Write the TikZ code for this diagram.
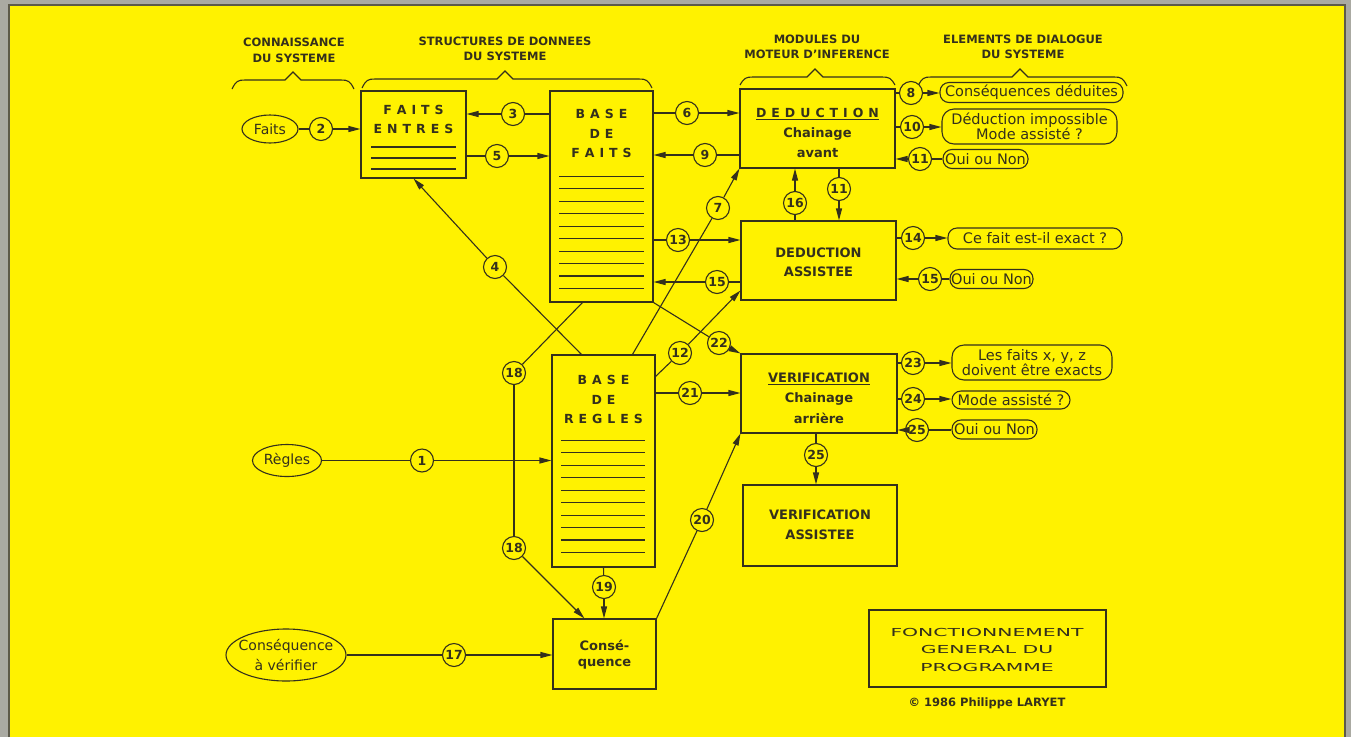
\documentclass[tikz,border=0pt]{standalone}
\usepackage{fontspec}
\setmainfont{DejaVu Sans}
\usepackage{graphicx}
\usetikzlibrary{arrows.meta,shapes.geometric,calc}
\definecolor{bgyel}{RGB}{255,242,0}
\definecolor{ink}{RGB}{52,48,28}
\definecolor{framegray}{RGB}{170,170,162}
\newcommand{\fsz}[2]{\fontsize{#1}{#2}\selectfont}
\tikzset{
  ln/.style={draw=ink, line width=1.1pt},
  arr/.style={ln, -{Triangle[length=12pt,width=6pt]}},
  num/.style={circle, draw=ink, line width=1.1pt, fill=bgyel, minimum size=23pt, inner sep=0pt, text=ink, font=\fsz{12.5}{12.5}\bfseries},
  box/.style={draw=ink, line width=1.1pt, inner sep=0pt},
  oval/.style={ellipse, draw=ink, line width=1.1pt, inner sep=0pt, align=center, text=ink, font=\fsz{14}{20}},
  dlg/.style={draw=ink, line width=1.1pt, rounded corners=9pt, inner sep=0pt, align=center, text=ink, font=\fsz{14.5}{15}},
  hdr/.style={align=center, text=ink, font=\fsz{11.5}{15.5}\bfseries},
  btx/.style={text=ink, inner sep=0pt, font=\fsz{13}{20}\bfseries},
  stx/.style={text=ink, inner sep=0pt, font=\fsz{12.5}{20}\bfseries\spaceskip5pt\relax},
}
\begin{document}
\begin{tikzpicture}[x=1pt,y=-1pt]
\useasboundingbox (0,0) rectangle (1351,737);
% background and frame
\fill[framegray] (0,0) rectangle (1351,737);
\fill[bgyel] (9,5) rectangle (1345,737);
\draw[line width=1.5pt, ink!80] (9,737) -- (9,5) -- (1345,5) -- (1345,737);

% headers
\node[hdr] (h1) at (294,50.5) {CONNAISSANCE\\DU SYSTEME};
\node[hdr] (h2) at (505,49) {STRUCTURES DE DONNEES\\DU SYSTEME};
\node[hdr] (h3) at (817,47) {MODULES DU\\MOTEUR D'INFERENCE};
\node[hdr] (h4) at (1023,47) {ELEMENTS DE DIALOGUE\\DU SYSTEME};

% braces
\draw[ln] (232,89) .. controls (236,81) and (238,80) .. (245,80) -- (285,80) -- (293,72) -- (301,80) -- (341,80) .. controls (348,80) and (350,81) .. (354,89);
\draw[ln] (362,88) .. controls (366,80) and (368,79) .. (375,79) -- (497,79) -- (505,71) -- (513,79) -- (639,79) .. controls (646,79) and (648,80) .. (652,88);
\draw[ln] (740,85) .. controls (744,78) and (746,77) .. (753,77) -- (807,77) -- (815,69) -- (823,77) -- (882,77) .. controls (889,77) and (891,78) .. (895,85);
\draw[ln] (918,86) .. controls (922,78) and (924,77) .. (931,77) -- (1012,77) -- (1020,69) -- (1028,77) -- (1114,77) .. controls (1121,77) and (1123,78) .. (1127,86);

% main boxes
\node[box, minimum width=105pt, minimum height=87pt] (fe) at (413.5,134.5) {};
\node[box, minimum width=103pt, minimum height=211pt] (bf) at (601.5,196.5) {};
\node[box, minimum width=103pt, minimum height=212pt] (br) at (603.5,461) {};
\node[box, minimum width=103pt, minimum height=70pt] (cq) at (604.5,654) {};
\node[box, minimum width=155pt, minimum height=79pt] (ded) at (817.5,128.5) {};
\node[box, minimum width=155pt, minimum height=79pt] (da) at (818.5,260.5) {};
\node[box, minimum width=156pt, minimum height=79pt] (verif) at (819,393.5) {};
\node[box, minimum width=154pt, minimum height=81pt] (va) at (820,525.5) {};
\node[box, minimum width=237pt, minimum height=77pt] (fn) at (987.5,648.5) {};

% ruled lines inside boxes
\foreach \k in {56.5,67.5,78.5} \draw[ln] ($(fe.north west)+(11,\k)$) -- ++(85,0);
\foreach \i in {0,...,9} {
  \draw[ln] ($(bf.north west)+(10,86+\i*12.44)$) -- ++(85,0);
  \draw[ln] ($(br.north west)+(10,86+\i*12.44)$) -- ++(84,0);
}

% box texts
\node[stx] (tfe1) at (413.5,110) {F A I T S};
\node[stx] (tfe2) at (413.5,129) {E N T R E S};
\node[stx] (tbf1) at (601.5,114) {B A S E};
\node[stx] (tbf2) at (601.5,134) {D E};
\node[stx] (tbf3) at (601.5,153) {F A I T S};
\node[stx] (tbr1) at (603.5,380) {B A S E};
\node[stx] (tbr2) at (603.5,400) {D E};
\node[stx] (tbr3) at (603.5,419) {R E G L E S};
\node[stx] (tded1) at (817.5,114) {\underline{D E D U C T I O N}};
\node[btx] (tded2) at (817.5,134) {Chainage};
\node[btx] (tded3) at (817.5,153) {avant};
\node[btx] (tda1) at (818.5,253) {DEDUCTION};
\node[btx] (tda2) at (818.5,272) {ASSISTEE};
\node[btx] (tve1) at (819,379) {\underline{VERIFICATION}};
\node[btx] (tve2) at (819,399) {Chainage};
\node[btx] (tve3) at (819,418) {arrière};
\node[btx] (tva1) at (820,515) {VERIFICATION};
\node[btx] (tva2) at (820,535) {ASSISTEE};
\node[btx] (tcq1) at (604.5,645) {Consé-};
\node[btx] (tcq2) at (604.5,664) {quence};
\node[text=ink, align=center, font=\fsz{11}{17.5}] (tfn) at (987,649.5)
  {\scalebox{1.85}[1]{FONCTIONNEMENT}\\\scalebox{1.85}[1]{GENERAL DU}\\\scalebox{1.85}[1]{PROGRAMME}};
\node[text=ink, font=\fsz{11.5}{14}\bfseries] (copy) at (987,703) {© 1986 Philippe LARYET};

% input ellipses
\node[oval, minimum width=56pt, minimum height=28pt] (faits) at (270,129) {Faits};
\node[oval, minimum width=69pt, minimum height=32pt] (regles) at (287,460.5) {Règles};
\node[oval, inner xsep=-7pt, minimum width=120pt, minimum height=52pt] (csqv) at (286,655) {Conséquence\\à vérifier};

% dialog boxes
\node[dlg, minimum width=183pt, minimum height=20pt] (d8) at (1031.5,92.5) {Conséquences déduites};
\node[dlg, minimum width=175pt, minimum height=35pt, rounded corners=12pt] (d10) at (1029.5,126.5) {Déduction impossible\\Mode assisté ?};
\node[dlg, minimum width=85pt, minimum height=19pt] (d11) at (985.5,159) {Oui ou Non};
\node[dlg, minimum width=174pt, minimum height=21pt] (d14) at (1035,238.5) {Ce fait est-il exact ?};
\node[dlg, minimum width=83pt, minimum height=19pt] (d15) at (991.5,279) {Oui ou Non};
\node[dlg, minimum width=160pt, minimum height=35pt, rounded corners=12pt] (d23) at (1032,362.5) {Les faits x, y, z\\doivent être exacts};
\node[dlg, minimum width=118pt, minimum height=18pt] (d24) at (1011,400) {Mode assisté ?};
\node[dlg, minimum width=85pt, minimum height=19pt] (d25) at (994.5,429.5) {Oui ou Non};

% numbered circles
\node[num] (c1) at (422,460.5) {1};
\node[num] (c2) at (321,129) {2};
\node[num] (c3) at (513,114) {3};
\node[num] (c4) at (495,267) {4};
\node[num] (c5) at (497,156) {5};
\node[num] (c6) at (687,113) {6};
\node[num] (c7) at (718,208) {7};
\node[num] (c8) at (911,93) {8};
\node[num] (c9) at (705,155) {9};
\node[num] (c10) at (912,127) {10};
\node[num] (c11) at (920,159) {11};
\node[num] (c11b) at (839,189) {11};
\node[num] (c12) at (680,353) {12};
\node[num] (c13) at (678,240) {13};
\node[num] (c14) at (913,238) {14};
\node[num] (c15) at (717,282) {15};
\node[num] (c15r) at (930,279) {15};
\node[num] (c16) at (795,203) {16};
\node[num] (c17) at (454,655) {17};
\node[num] (c18a) at (514,373) {18};
\node[num] (c18b) at (514,548) {18};
\node[num] (c19) at (604,587) {19};
\node[num] (c20) at (702,520) {20};
\node[num] (c21) at (690,393) {21};
\node[num] (c22) at (719,343) {22};
\node[num] (c23) at (913,363) {23};
\node[num] (c24) at (913,399) {24};
\node[num] (c25) at (917,430) {25};
\node[num] (c25b) at (816,455) {25};

% free-end coordinates on box edges
\coordinate (p4) at ($(br.north west)+(30,0)$);
\coordinate (p7) at ($(br.north west)+(81,0)$);
\coordinate (p12) at ($(br.north east)+(0,22)$);
\coordinate (q12) at ($(da.south west)+(0,-10)$);
\coordinate (p18) at ($(bf.south west)+(33,0)$);
\coordinate (q18) at ($(cq.north west)+(32,0)$);

% connectors
\draw[ln] (faits) -- (c2);  \draw[arr] (c2) -- (c2 -| fe.west);
\draw[ln] (c3 -| bf.west) -- (c3);  \draw[arr] (c3) -- (c3 -| fe.east);
\draw[ln] (c5 -| fe.east) -- (c5);  \draw[arr] (c5) -- (c5 -| bf.west);
\draw[ln] (p4) -- (c4);  \draw[arr] (c4) -- (fe.south);
\draw[ln] (c6 -| bf.east) -- (c6);  \draw[arr] (c6) -- (c6 -| ded.west);
\draw[ln] (c9 -| ded.west) -- (c9);  \draw[arr] (c9) -- (c9 -| bf.east);
\draw[ln] (p7) -- (c7);  \draw[arr] (c7) -- (ded.south west);
\draw[ln] (c13 -| bf.east) -- (c13);  \draw[arr] (c13) -- (c13 -| da.west);
\draw[ln] (c15 -| da.west) -- (c15);  \draw[arr] (c15) -- (c15 -| bf.east);
\draw[ln] (c16 |- da.north) -- (c16);  \draw[arr] (c16) -- (c16 |- ded.south);
\draw[ln] (c11b |- ded.south) -- (c11b);  \draw[arr] (c11b) -- (c11b |- da.north);
\draw[ln] (c8 -| ded.east) -- (c8);  \draw[arr] (c8) -- (c8 -| d8.west);
\draw[ln] (c10 -| ded.east) -- (c10);  \draw[arr] (c10) -- (c10 -| d10.west);
\draw[ln] (c11 -| d11.west) -- (c11);  \draw[arr] (c11) -- (c11 -| ded.east);
\draw[ln] (c14 -| da.east) -- (c14);  \draw[arr] (c14) -- (c14 -| d14.west);
\draw[ln] (c15r -| d15.west) -- (c15r);  \draw[arr] (c15r) -- (c15r -| da.east);
\draw[ln] (c23 -| verif.east) -- (c23);  \draw[arr] (c23) -- (c23 -| d23.west);
\draw[ln] (c24 -| verif.east) -- (c24);  \draw[arr] (c24) -- (c24 -| d24.west);
\draw[ln] (c25 -| d25.west) -- (c25);  \draw[arr] (c25) -- (c25 -| verif.east);
\draw[ln] (c25b |- verif.south) -- (c25b);  \draw[arr] (c25b) -- (c25b |- va.north);
\draw[ln] (p12) -- (c12);  \draw[arr] (c12) -- (q12);
\draw[ln] (c21 -| br.east) -- (c21);  \draw[arr] (c21) -- (c21 -| verif.west);
\draw[ln] (bf.south east) -- (c22);  \draw[arr] (c22) -- (verif.north west);
\draw[ln] (regles) -- (c1);  \draw[arr] (c1) -- (c1 -| br.west);
\draw[ln] (p18) -- (c18a);  \draw[ln] (c18a) -- (c18b);  \draw[arr] (c18b) -- (q18);
\draw[ln] (br.south) -- (c19);  \draw[arr] (c19) -- (c19 |- cq.north);
\draw[ln] (csqv) -- (c17);  \draw[arr] (c17) -- (c17 -| cq.west);
\draw[ln] (cq.north east) -- (c20);  \draw[arr] (c20) -- (verif.south west);
\end{tikzpicture}
\end{document}
